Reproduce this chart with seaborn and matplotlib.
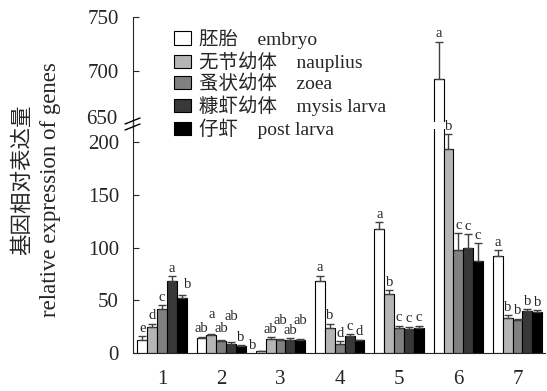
import matplotlib
matplotlib.use("Agg")
import matplotlib.pyplot as plt
from matplotlib.lines import Line2D
import seaborn as sns
import pandas as pd

genes = ["1", "2", "3", "4", "5", "6", "7"]
stages = ["胚胎    embryo", "无节幼体    nauplius", "蚤状幼体    zoea",
          "糠虾幼体    mysis larva", "仔虾    post larva"]
colors = ["#ffffff", "#b5b5b5", "#808080", "#383838", "#000000"]

embryo = [12.7, 14.6, 1.6, 68.4, 118, 692, 92]
embryo_sd = [3, 1, 0.5, 5, 6, 35, 5.5]
nauplius = [24.7, 17.5, 13.6, 24, 56.4, 194, 33.6]
nauplius_sd = [3, 1, 1.5, 4, 3, 14, 2.2]
zoea = [42.2, 11.1, 12, 8.3, 24.1, 98, 31]
zoea_sd = [3, 1, 1, 3, 2, 16, 1.5]
mysis = [68.4, 8.3, 12.7, 16.5, 23.1, 100, 39.6]
mysis_sd = [4.5, 2, 1.5, 1.5, 2, 13, 2]
post = [52.2, 6.4, 12.7, 12, 24, 87.4, 39]
post_sd = [3, 1, 0.5, 0.5, 2, 17, 1.5]

embryo_sig = ["e", "ab", "b", "a", "a", "a", "a"]
nauplius_sig = ["d", "a", "ab", "b", "b", "b", "b"]
zoea_sig = ["c", "ab", "ab", "d", "c", "c", "b"]
mysis_sig = ["a", "ab", "ab", "c", "c", "c", "b"]
post_sig = ["b", "b", "ab", "d", "c", "c", "b"]

means = [embryo, nauplius, zoea, mysis, post]
sds = [embryo_sd, nauplius_sd, zoea_sd, mysis_sd, post_sd]
sigs = [embryo_sig, nauplius_sig, zoea_sig, mysis_sig, post_sig]

# letter nudges (points) so crowded labels don't collide: (stage, gene) -> (dx, dy)
nudge = {(1, 1): (0, 8), (2, 1): (0, 3), (3, 1): (0, 13),
         (0, 2): (-6, -2), (2, 2): (0, 8), (4, 2): (0, 8),
         (4, 0): (4, 2)}

rows = []
for s, m in zip(stages, means):
    for g, v in zip(genes, m):
        rows.append({"gene": g, "stage": s, "value": v})
df = pd.DataFrame(rows)

sns.set_style("ticks")
plt.rcParams["font.family"] = ["Liberation Serif", "Noto Sans CJK SC"]

fig = plt.figure(figsize=(5.47, 3.91), dpi=100)
ax_top = fig.add_axes([0.243, 1 - 122 / 391, 0.753, 105 / 391])
ax_bot = fig.add_axes([0.243, 1 - 353 / 391, 0.753, 224 / 391])

bot_max = 224 / 1.053
for ax in (ax_top, ax_bot):
    sns.barplot(data=df, x="gene", y="value", hue="stage", hue_order=stages,
                palette=colors, width=0.83, edgecolor="black", linewidth=0.8,
                errorbar=None, legend=False, ax=ax)
    for j, (cont, sd, sig) in enumerate(zip(ax.containers, sds, sigs)):
        xs = [b.get_x() + b.get_width() / 2 for b in cont]
        ys = [b.get_height() for b in cont]
        ax.errorbar(xs, ys, yerr=[[0] * len(sd), sd], fmt="none", ecolor="#404040",
                    elinewidth=1, capsize=3, capthick=1)
        for i, (x, y, e, t) in enumerate(zip(xs, ys, sd, sig)):
            top = y + e
            in_top = top > bot_max
            if (ax is ax_top) == in_top:
                dx, dy = nudge.get((j, i), (0, 0))
                ax.annotate(t, (x, top), xytext=(dx, 1 + dy), textcoords="offset points",
                            ha="center", va="bottom", fontsize=10.5)
    ax.set_xlim(-0.49, 6.46)
    ax.set_xlabel("")
    ax.set_ylabel("")
    ax.tick_params(axis="y", direction="in", length=4, pad=10, labelsize=15)
    ax.spines["top"].set_visible(False)
    ax.spines["right"].set_visible(False)

ax_top.set_ylim(652, 750)
ax_top.set_yticks([700, 750])
ax_top.spines["bottom"].set_visible(False)
ax_top.tick_params(axis="x", bottom=False, labelbottom=False)

ax_bot.set_ylim(0, bot_max)
ax_bot.set_yticks([0, 50, 100, 150, 200])
ax_bot.tick_params(axis="x", length=0, pad=12, labelsize=15)

# label 650 next to the break
fig.text(117 / 547, 1 - 120 / 391, "650", ha="right", va="center", fontsize=15)

# axis break marks and spine through the gap
fig.add_artist(Line2D([133 / 547, 133 / 547], [1 - 122 / 391, 1 - 129 / 391],
                      color="#333333", lw=1))
for yy in (121, 127):
    fig.add_artist(Line2D([125 / 547, 140 / 547], [1 - (yy + 3) / 391, 1 - (yy - 3) / 391],
                          color="black", lw=1))

handles = [plt.Rectangle((0, 0), 1, 1, facecolor=c, edgecolor="black", linewidth=0.8)
           for c in colors]
fig.legend(handles, stages, loc="upper left", bbox_to_anchor=(174 / 547, 1 - 29 / 391),
           frameon=False, fontsize=14, handlelength=0.88, handleheight=0.67,
           labelspacing=0.13, handletextpad=0.4, borderpad=0, borderaxespad=0)

fig.text(22 / 547, 1 - 180 / 391, "基因相对表达量", rotation=90, ha="center",
         va="center", fontsize=15.5, family=["Noto Sans CJK SC"])
fig.text(51 / 547, 1 - 190 / 391, "relative expression of genes", rotation=90,
         ha="center", va="center", fontsize=16.5)

fig.savefig("out.png", dpi=100)
